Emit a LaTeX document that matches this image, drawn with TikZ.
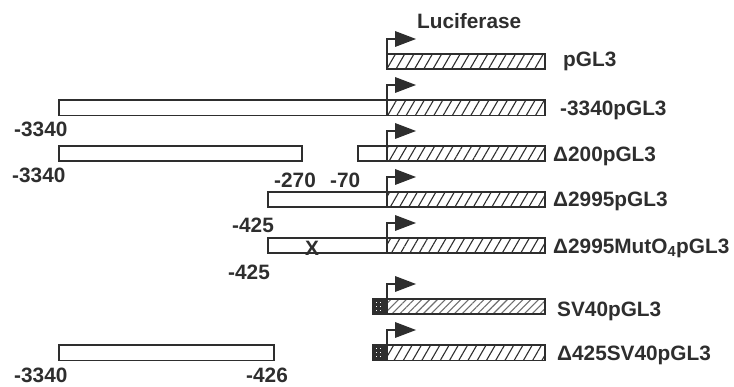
\documentclass[tikz,border=0pt]{standalone}
\usepackage{fontspec}
\setmainfont{Liberation Sans}
\usetikzlibrary{patterns.meta}
\definecolor{ink}{HTML}{2E2E2E}
\tikzset{
  lbl/.style={font=\fontsize{20.8}{23}\bfseries\selectfont, text=ink, inner sep=0pt, text height=14.8pt, text depth=0pt, anchor=west},
  lucbar/.style={draw=ink, line width=1.3pt, pattern={Lines[angle=60,distance=8pt,line width=1.1pt]}, pattern color=ink},
  lucbargray/.style={draw=ink, line width=1.3pt, pattern={Lines[angle=45,distance=5.5pt,line width=1.1pt]}, pattern color=ink!70},
  prombox/.style={draw=ink, line width=1.3pt, fill=white},
  sv40/.style={draw=ink, line width=1.3pt, fill=ink},
  promline/.style={draw=ink, line width=1.3pt},
  promtip/.style={fill=ink}
}
\newcommand{\promoter}[1]{%
  \draw[promline] (387,#1) -- (387,#1-15) -- (396,#1-15);
  \fill[promtip] (395,#1-23) -- (416,#1-15) -- (395,#1-7) -- cycle;
}
\newcommand{\svdots}[1]{%
  \draw[sv40] (373,#1) rectangle (387,#1+15);
  \foreach \dx in {376.5,380.5}{\foreach \dy in {3.5,7.5,11.5}{
    \fill[white] (\dx-0.9,#1+\dy-0.9) rectangle (\dx+0.9,#1+\dy+0.9);}}
}
\begin{document}
\begin{tikzpicture}[x=1pt,y=-1pt]
\useasboundingbox (0,0) rectangle (734,387);
% Row 1 pGL3
\draw[lucbar] (387,54) rectangle (545,69);
\promoter{54}
\node[lbl] (luc) at (417,20.7) {Luciferase};
\node[lbl] (r1) at (563,59.5) {pGL3};
% Row 2
\draw[prombox] (59,100) rectangle (387,115.5);
\draw[lucbar] (387,100) rectangle (545,115.5);
\promoter{100}
\node[lbl] (a2) at (14,129) {-3340};
\node[lbl] (r2) at (560,108) {-3340pGL3};
% Row 3
\draw[prombox] (59,146) rectangle (302,161);
\draw[prombox] (358,146) rectangle (387,161);
\draw[lucbar] (387,146) rectangle (545,161);
\promoter{146}
\node[lbl] (a3) at (12,175) {-3340};
\node[lbl] (b3) at (274,180) {-270};
\node[lbl] (c3) at (330,180) {-70};
\node[lbl] (r3) at (553,154.5) {Δ200pGL3};
% Row 4
\draw[prombox] (268,192) rectangle (387,207);
\draw[lucbar] (387,192) rectangle (545,207);
\promoter{192}
\node[lbl] (a4) at (232,225) {-425};
\node[lbl] (r4) at (553,199.5) {Δ2995pGL3};
% Row 5
\draw[prombox] (268,238) rectangle (387,253);
\draw[lucbar] (387,238) rectangle (545,253);
\promoter{238}
\node[lbl, anchor=center] (x5) at (312,248.5) {X};
\node[lbl] (a5) at (228,272) {-425};
\node[lbl] (r5) at (553,246) {Δ2995MutO\textsubscript{4}pGL3};
% Row 6
\draw[lucbargray] (387,299) rectangle (545,314);
\svdots{299}
\promoter{299}
\node[lbl] (r6) at (557,309) {SV40pGL3};
% Row 7
\draw[prombox] (59,345) rectangle (274,360.5);
\draw[lucbar] (387,345) rectangle (545,360.5);
\svdots{345}
\promoter{345}
\node[lbl] (a7) at (14,375.5) {-3340};
\node[lbl] (b7) at (246,375.5) {-426};
\node[lbl] (r7) at (557,353.5) {Δ425SV40pGL3};
\end{tikzpicture}
\end{document}
